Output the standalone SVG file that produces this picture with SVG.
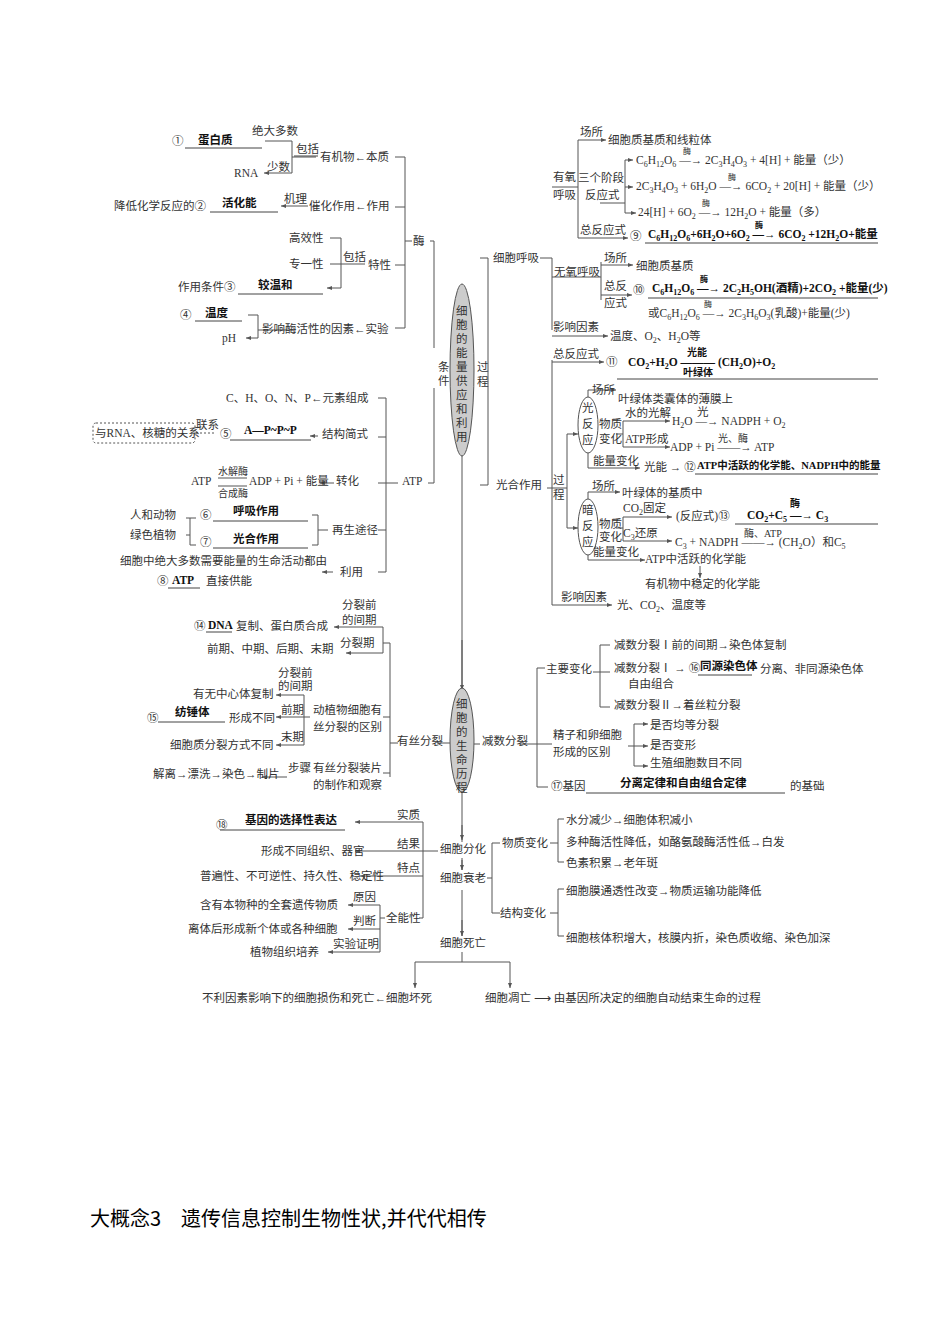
<svg xmlns="http://www.w3.org/2000/svg" width="950" height="1344" viewBox="0 0 950 1344">
<style>
text{font-family:"Liberation Serif","Noto Sans CJK SC",serif;font-size:11.5px;fill:#333}
.b{font-weight:bold;fill:#111}
.s{font-size:8px}
.l{fill:none;stroke:#555;stroke-width:1}
.a{fill:none;stroke:#555;stroke-width:1;marker-end:url(#m)}
.u{stroke:#444;stroke-width:1}
.e{fill:#ccc;stroke:#555}
.t{font-size:20px;fill:#000;font-family:"Noto Sans CJK SC",sans-serif}
</style>
<defs><marker id="m" markerWidth="6" markerHeight="6" refX="5" refY="3" orient="auto"><path d="M0,1 L5,3 L0,5z" fill="#555"/></marker></defs>
<rect width="950" height="1344" fill="#fff"/>
<g id="connectors">
<path class="l" d="M395 157H405V328M395 207H405M395 265H405M395 328H405M405 241H412M430 241H434V348"/>
<path class="a" d="M316 157H292V141H265M292 157V173H264"/>
<path class="a" d="M308 206H281"/>
<path class="a" d="M365 264H341V238H330M341 264H330M341 264V288H327"/>
<path class="a" d="M292 330H258V315H248M258 330V338H246"/>
<path class="l" d="M378 398H386V572M378 437H386M378 483H386M378 530H386M378 572H386M386 483H398M428 483H434V388"/>
<path class="a" d="M318 436H310"/><path class="a" d="M334 483H320"/><path class="a" d="M333 572H322"/>
<path class="l" d="M196 433H215" stroke-dasharray="2,2"/>
<path class="l" d="M218 478H247M218 486H247M312 515H318V545H312M318 530H328M186 518H196M186 535H190V518M190 535V545H196"/>
<path class="l" d="M462 455V690"/><path class="a" d="M462 640V690"/>
<path class="l" d="M480 258H488V485M480 485H488"/>
<path class="l" d="M540 258H552V330M552 187H578M578 140V238M552 277H601M601 262V300M625 160V213M600 203H625"/>
<path class="a" d="M578 140H606"/><path class="a" d="M625 160H633"/><path class="a" d="M625 187H633"/><path class="a" d="M625 213H636"/><path class="a" d="M578 238H628"/>
<path class="a" d="M601 265H633"/><path class="a" d="M601 295H632"/><path class="a" d="M552 336H608"/>
<path class="l" d="M552 360V605M547 488H567M567 434V528"/>
<path class="a" d="M552 362H604"/><path class="a" d="M567 434H578"/><path class="a" d="M567 528H578"/>
<path class="a" d="M588 397V390H616"/><path class="a" d="M588 453V468H640"/><path class="a" d="M623 421H670"/><path class="a" d="M623 447H670"/><path class="l" d="M623 421V447M616 434H623"/>
<path class="a" d="M588 499V492H620"/><path class="a" d="M588 555V560H645"/><path class="a" d="M623 517H672"/><path class="a" d="M623 541H672"/><path class="l" d="M623 517V541M616 528H623"/>
<path class="a" d="M552 605H612"/><path class="a" d="M700 566V578"/>
<path class="l" d="M383 643H390V777M383 717H390M383 773H390M390 743H398M437 743H450"/>
<path class="a" d="M383 643V627H334"/><path class="a" d="M383 643V653H346"/>
<path class="a" d="M310 717H304V695H276"/><path class="a" d="M304 717H276"/><path class="a" d="M304 717V745H276"/>
<path class="a" d="M287 777H262"/>
<path class="l" d="M474 744H480M520 744H537M537 668V787M537 668H545M537 787H548M593 672H600M600 645V707M600 645H610M600 707H610M600 672H610M537 744H552"/>
<path class="l" d="M628 746H634M634 724V766"/>
<path class="a" d="M634 724H648"/><path class="a" d="M634 746H648"/><path class="a" d="M634 766H648"/>
<path class="l" d="M462 790V842M462 860V870M462 890V936"/>
<path class="a" d="M462 825V840"/><path class="a" d="M462 858V870"/><path class="a" d="M462 920V936"/>
<path class="l" d="M438 851H423V918H419"/>
<path class="a" d="M423 826V822H355"/><path class="l" d="M423 826V851"/><path class="a" d="M423 851H355"/><path class="a" d="M423 876H360"/>
<path class="l" d="M380 918H385M380 905V952"/>
<path class="a" d="M380 905H348"/><path class="a" d="M380 929H348"/><path class="a" d="M380 952H328"/>
<path class="l" d="M487 878H492M492 843V913M492 843H500M492 913H500M550 843H558M558 819V862M550 913H558M558 889V936M558 819H564M558 862H564M558 889H564M558 936H564"/>
<path class="l" d="M462 952V962M415 962H510"/><path class="a" d="M415 962V988"/><path class="a" d="M510 962V988"/>
</g>
<g id="enzyme">
<text x="252" y="135">绝大多数</text>
<text x="172" y="145">①</text><text class="b" x="198" y="144">蛋白质</text><line class="u" x1="185" y1="148" x2="262" y2="148"/>
<text x="296" y="153">包括</text><line class="u" x1="294" y1="156" x2="318" y2="156"/>
<text x="267" y="171">少数</text><text x="234" y="177">RNA</text>
<text x="320" y="161">有机物←本质</text>
<text x="114" y="210">降低化学反应的②</text><text class="b" x="222" y="207">活化能</text><line class="u" x1="210" y1="212" x2="278" y2="212"/>
<text x="284" y="203">机理</text><text x="309" y="210">催化作用←作用</text>
<text x="413" y="245">酶</text>
<text x="289" y="242">高效性</text><text x="289" y="268">专一性</text><text x="343" y="261">包括</text><text x="368" y="269">特性</text>
<text x="178" y="291">作用条件③</text><text class="b" x="258" y="289">较温和</text><line class="u" x1="238" y1="294" x2="323" y2="294"/>
<text x="180" y="319">④</text><text class="b" x="205" y="317">温度</text><line class="u" x1="195" y1="321" x2="242" y2="321"/>
<text x="222" y="342">pH</text><text x="262" y="333">影响酶活性的因素←实验</text>
</g>
<g id="ellipse1"><ellipse class="e" cx="462" cy="370" rx="12" ry="86"/>
<text x="456" y="315">细</text><text x="456" y="329">胞</text><text x="456" y="343">的</text><text x="456" y="357">能</text><text x="456" y="371">量</text><text x="456" y="385">供</text><text x="456" y="399">应</text><text x="456" y="413">和</text><text x="456" y="427">利</text><text x="456" y="441">用</text>
<text x="438" y="371">条</text><text x="438" y="385">件</text><text x="477" y="371">过</text><text x="477" y="386">程</text>
</g>
<g id="respiration">
<text x="493" y="262">细胞呼吸</text>
<text x="553" y="181">有氧</text><text x="553" y="199">呼吸</text>
<text x="580" y="136">场所</text><text x="608" y="144">细胞质基质和线粒体</text>
<text x="578" y="182">三个阶段</text><text x="585" y="199">反应式</text>
<text x="636" y="164">C<tspan class="s" dy="3">6</tspan><tspan dy="-3">H</tspan><tspan class="s" dy="3">12</tspan><tspan dy="-3">O</tspan><tspan class="s" dy="3">6</tspan><tspan dy="-3"> —→ 2C</tspan><tspan class="s" dy="3">3</tspan><tspan dy="-3">H</tspan><tspan class="s" dy="3">4</tspan><tspan dy="-3">O</tspan><tspan class="s" dy="3">3</tspan><tspan dy="-3"> + 4[H] + 能量（少）</tspan></text>
<text class="s" x="683" y="154">酶</text>
<text x="636" y="190">2C<tspan class="s" dy="3">3</tspan><tspan dy="-3">H</tspan><tspan class="s" dy="3">4</tspan><tspan dy="-3">O</tspan><tspan class="s" dy="3">3</tspan><tspan dy="-3"> + 6H</tspan><tspan class="s" dy="3">2</tspan><tspan dy="-3">O —→ 6CO</tspan><tspan class="s" dy="3">2</tspan><tspan dy="-3"> + 20[H] + 能量（少）</tspan></text>
<text class="s" x="728" y="180">酶</text>
<text x="638" y="216">24[H] + 6O<tspan class="s" dy="3">2</tspan><tspan dy="-3"> —→ 12H</tspan><tspan class="s" dy="3">2</tspan><tspan dy="-3">O + 能量（多）</tspan></text>
<text class="s" x="702" y="206">酶</text>
<text x="580" y="234">总反应式</text><text x="630" y="240">⑨</text>
<text class="b" x="648" y="238">C<tspan class="s" dy="3">6</tspan><tspan dy="-3">H</tspan><tspan class="s" dy="3">12</tspan><tspan dy="-3">O</tspan><tspan class="s" dy="3">6</tspan><tspan dy="-3">+6H</tspan><tspan class="s" dy="3">2</tspan><tspan dy="-3">O+6O</tspan><tspan class="s" dy="3">2</tspan><tspan dy="-3"> —→ 6CO</tspan><tspan class="s" dy="3">2</tspan><tspan dy="-3"> +12H</tspan><tspan class="s" dy="3">2</tspan><tspan dy="-3">O+能量</tspan></text>
<text class="b s" x="755" y="228">酶</text><line class="u" x1="645" y1="243" x2="878" y2="243"/>
<text x="554" y="276">无氧呼吸</text>
<text x="604" y="262">场所</text><text x="636" y="270">细胞质基质</text>
<text x="604" y="290">总反</text><text x="604" y="307">应式</text><text x="633" y="294">⑩</text>
<text class="b" x="652" y="292">C<tspan class="s" dy="3">6</tspan><tspan dy="-3">H</tspan><tspan class="s" dy="3">12</tspan><tspan dy="-3">O</tspan><tspan class="s" dy="3">6</tspan><tspan dy="-3"> —→ 2C</tspan><tspan class="s" dy="3">2</tspan><tspan dy="-3">H</tspan><tspan class="s" dy="3">5</tspan><tspan dy="-3">OH(酒精)+2CO</tspan><tspan class="s" dy="3">2</tspan><tspan dy="-3"> +能量(少)</tspan></text>
<text class="b s" x="700" y="282">酶</text><line class="u" x1="648" y1="298" x2="878" y2="298"/>
<text x="648" y="317">或C<tspan class="s" dy="3">6</tspan><tspan dy="-3">H</tspan><tspan class="s" dy="3">12</tspan><tspan dy="-3">O</tspan><tspan class="s" dy="3">6</tspan><tspan dy="-3">  —→  2C</tspan><tspan class="s" dy="3">3</tspan><tspan dy="-3">H</tspan><tspan class="s" dy="3">6</tspan><tspan dy="-3">O</tspan><tspan class="s" dy="3">3</tspan><tspan dy="-3">(乳酸)+能量(少)</tspan></text>
<text class="s" x="704" y="307">酶</text>
<text x="553" y="331">影响因素</text><text x="610" y="340">温度、O<tspan class="s" dy="3">2</tspan><tspan dy="-3">、H</tspan><tspan class="s" dy="3">2</tspan><tspan dy="-3">O等</tspan></text>
</g>
<g id="photosynthesis">
<text x="553" y="358">总反应式</text><text x="606" y="366">⑪</text>
<text class="b" x="628" y="366">CO<tspan class="s" dy="3">2</tspan><tspan dy="-3">+H</tspan><tspan class="s" dy="3">2</tspan><tspan dy="-3">O ——— (CH</tspan><tspan class="s" dy="3">2</tspan><tspan dy="-3">O)+O</tspan><tspan class="s" dy="3">2</tspan></text>
<text class="b" x="687" y="356" style="font-size:10px">光能</text><text class="b" x="683" y="376" style="font-size:10px">叶绿体</text>
<line class="u" x1="617" y1="379" x2="878" y2="379"/>
<text x="496" y="489">光合作用</text><text x="553" y="484">过</text><text x="553" y="499">程</text>
<ellipse class="e" cx="588" cy="425" rx="10" ry="28" style="fill:#fff"/>
<text x="582" y="412">光</text><text x="582" y="428">反</text><text x="582" y="444">应</text>
<text x="592" y="394">场所</text><text x="618" y="403">叶绿体类囊体的薄膜上</text>
<text x="599" y="428">物质</text><text x="599" y="443">变化</text>
<text x="625" y="417">水的光解</text><text x="672" y="425">H<tspan class="s" dy="3">2</tspan><tspan dy="-3">O —→ NADPH + O</tspan><tspan class="s" dy="3">2</tspan></text><text x="697" y="416">光</text>
<text x="625" y="443">ATP形成</text><text x="670" y="451">ADP + Pi ——→ ATP</text><text x="718" y="442" style="font-size:10px">光、酶</text>
<text x="593" y="465">能量变化</text><text x="644" y="471">光能 → ⑫</text>
<text class="b" x="697" y="469" style="font-size:10.5px">ATP中活跃的化学能、NADPH中的能量</text><line class="u" x1="695" y1="474" x2="878" y2="474"/>
<ellipse class="e" cx="588" cy="527" rx="10" ry="28" style="fill:#fff"/>
<text x="582" y="514">暗</text><text x="582" y="530">反</text><text x="582" y="546">应</text>
<text x="592" y="490">场所</text><text x="622" y="497">叶绿体的基质中</text>
<text x="599" y="528">物质</text><text x="599" y="541">变化</text>
<text x="623" y="512">CO<tspan class="s" dy="3">2</tspan><tspan dy="-3">固定</tspan></text><text x="676" y="520">(反应式)⑬</text>
<text class="b" x="747" y="519">CO<tspan class="s" dy="3">2</tspan><tspan dy="-3">+C</tspan><tspan class="s" dy="3">5</tspan><tspan dy="-3"> —→ C</tspan><tspan class="s" dy="3">3</tspan></text><text class="b" x="790" y="507" style="font-size:10px">酶</text>
<line class="u" x1="735" y1="524" x2="878" y2="524"/>
<text x="623" y="537">C<tspan class="s" dy="3">3</tspan><tspan dy="-3">还原</tspan></text>
<text x="675" y="546">C<tspan class="s" dy="3">3</tspan><tspan dy="-3"> + NADPH ——→ (CH</tspan><tspan class="s" dy="3">2</tspan><tspan dy="-3">O）和C</tspan><tspan class="s" dy="3">5</tspan></text><text x="744" y="537" style="font-size:10px">酶、ATP</text>
<text x="593" y="556">能量变化</text><text x="645" y="563">ATP中活跃的化学能</text>
<text x="645" y="588">有机物中稳定的化学能</text>
<text x="561" y="601">影响因素</text><text x="617" y="609">光、CO<tspan class="s" dy="3">2</tspan><tspan dy="-3">、温度等</tspan></text>
</g>
<g id="atp">
<text x="226" y="402">C、H、O、N、P←元素组成</text>
<rect x="93" y="423" width="102" height="20" rx="3" fill="none" stroke="#555" stroke-dasharray="2,2"/>
<text x="95" y="437">与RNA、核糖的关系</text><text x="196" y="429">联系</text>
<text x="220" y="438">⑤</text><text class="b" x="244" y="434">A—P~P~P</text><line class="u" x1="230" y1="440" x2="311" y2="440"/>
<text x="322" y="438">结构简式</text>
<text x="191" y="485">ATP</text><text x="218" y="475" style="font-size:10px">水解酶</text><text x="218" y="497" style="font-size:10px">合成酶</text>
<text x="249" y="485">ADP + Pi + 能量</text><text x="336" y="485">转化</text><text x="402" y="485">ATP</text>
<text x="130" y="519">人和动物</text><text x="200" y="519">⑥</text><text class="b" x="233" y="515">呼吸作用</text><line class="u" x1="213" y1="521" x2="308" y2="521"/>
<text x="130" y="539">绿色植物</text><text x="200" y="546">⑦</text><text class="b" x="233" y="543">光合作用</text><line class="u" x1="213" y1="548" x2="308" y2="548"/>
<text x="332" y="534">再生途径</text>
<text x="120" y="565">细胞中绝大多数需要能量的生命活动都由</text><text x="340" y="576">利用</text>
<text x="157" y="585">⑧</text><text class="b" x="172" y="584">ATP</text><line class="u" x1="168" y1="588" x2="200" y2="588"/><text x="206" y="585">直接供能</text>
</g>
<g id="ellipse2"><ellipse class="e" cx="462" cy="740" rx="12" ry="52"/>
<text x="456" y="708">细</text><text x="456" y="722">胞</text><text x="456" y="736">的</text><text x="456" y="750">生</text><text x="456" y="764">命</text><text x="456" y="778">历</text><text x="456" y="792">程</text>
</g>
<g id="mitosis">
<text x="342" y="609">分裂前</text><text x="342" y="624">的间期</text>
<text x="194" y="630">⑭</text><text class="b" x="208" y="629">DNA</text><line class="u" x1="206" y1="632" x2="232" y2="632"/><text x="236" y="630">复制、蛋白质合成</text>
<text x="340" y="647">分裂期</text><text x="207" y="653">前期、中期、后期、末期</text>
<text x="278" y="677">分裂前</text><text x="278" y="690">的间期</text><text x="193" y="698">有无中心体复制</text>
<text x="147" y="722">⑮</text><text class="b" x="175" y="716">纺锤体</text><line class="u" x1="158" y1="722" x2="225" y2="722"/>
<text x="281" y="714">前期</text><text x="229" y="722">形成不同</text>
<text x="313" y="714">动植物细胞有</text><text x="313" y="731">丝分裂的区别</text>
<text x="281" y="741">末期</text><text x="170" y="749">细胞质分裂方式不同</text>
<text x="397" y="745">有丝分裂</text>
<text x="153" y="778">解离→漂洗→染色→制片</text><text x="288" y="772">步骤</text>
<text x="313" y="772">有丝分裂装片</text><text x="313" y="789">的制作和观察</text>
</g>
<g id="meiosis">
<text x="482" y="745">减数分裂</text>
<text x="546" y="673">主要变化</text>
<text x="614" y="649">减数分裂Ⅰ前的间期→染色体复制</text>
<text x="614" y="672">减数分裂Ⅰ → ⑯</text><text class="b" x="700" y="670">同源染色体</text><line class="u" x1="698" y1="675" x2="752" y2="675"/><text x="760" y="673">分离、非同源染色体</text>
<text x="628" y="688">自由组合</text>
<text x="614" y="709">减数分裂Ⅱ→着丝粒分裂</text>
<text x="553" y="739">精子和卵细胞</text><text x="553" y="756">形成的区别</text>
<text x="650" y="729">是否均等分裂</text><text x="650" y="749">是否变形</text><text x="650" y="767">生殖细胞数目不同</text>
<text x="551" y="790">⑰基因</text><text class="b" x="620" y="787">分离定律和自由组合定律</text><line class="u" x1="586" y1="793" x2="785" y2="793"/><text x="790" y="790">的基础</text>
</g>
<g id="differentiation">
<text x="440" y="853">细胞分化</text><text x="440" y="882">细胞衰老</text><text x="440" y="947">细胞死亡</text>
<text x="397" y="819">实质</text><text x="216" y="829">⑱</text><text class="b" x="245" y="824">基因的选择性表达</text><line class="u" x1="220" y1="830" x2="345" y2="830"/>
<text x="397" y="848">结果</text><text x="261" y="855">形成不同组织、器官</text>
<text x="397" y="872">特点</text><text x="200" y="880">普遍性、不可逆性、持久性、稳定性</text>
<text x="353" y="901">原因</text><text x="200" y="909">含有本物种的全套遗传物质</text>
<text x="353" y="925">判断</text><text x="386" y="922">全能性</text><text x="188" y="933">离体后形成新个体或各种细胞</text>
<text x="333" y="948">实验证明</text><text x="250" y="956">植物组织培养</text>
<text x="502" y="847">物质变化</text><text x="500" y="917">结构变化</text>
<text x="566" y="824">水分减少→细胞体积减小</text>
<text x="566" y="846">多种酶活性降低，如酪氨酸酶活性低→白发</text>
<text x="566" y="867">色素积累→老年斑</text>
<text x="566" y="895">细胞膜通透性改变→物质运输功能降低</text>
<text x="566" y="942">细胞核体积增大，核膜内折，染色质收缩、染色加深</text>
<text x="202" y="1002">不利因素影响下的细胞损伤和死亡←细胞坏死</text>
<text x="485" y="1002">细胞凋亡 ⟶ 由基因所决定的细胞自动结束生命的过程</text>
</g>
<text class="t" x="90" y="1226">大概念3　遗传信息控制生物性状,并代代相传</text>
</svg>
